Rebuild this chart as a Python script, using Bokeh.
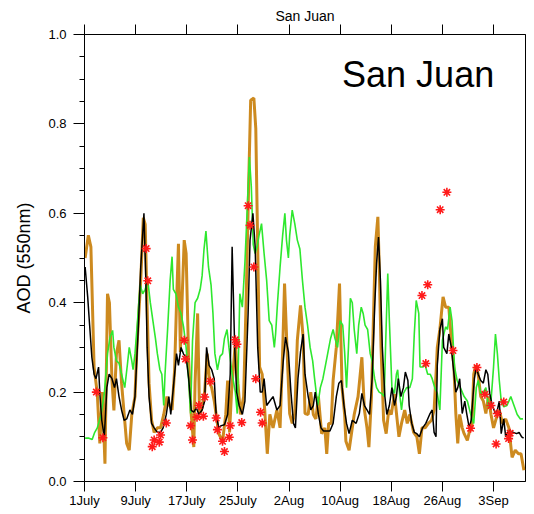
from bokeh.plotting import figure
from bokeh.models import LinearAxis, FixedTicker, Range1d, Label, PrintfTickFormatter, CustomLabelingPolicy
from bokeh.embed import file_html
from bokeh.resources import INLINE

# ---- data (days since 1 July) ----
tick_days = [0, 8, 16, 24, 32, 40, 48, 56, 64]
tick_labels = ["1July", "9July", "17July", "25July", "2Aug", "10Aug", "18Aug", "26Aug", "3Sep"]

orange_day = [0.1, 0.6, 1.0, 1.5, 2.0, 2.4, 2.8, 3.2, 3.6, 3.9, 4.3, 4.6, 5.0, 5.4, 5.8, 6.2, 6.6, 7.0, 7.4, 7.9,
              8.2, 8.8, 9.2, 9.5, 9.8, 10.1, 10.5, 10.9, 11.4, 11.9, 12.4, 12.9, 13.3, 13.7, 14.1, 14.4, 14.7, 15.0,
              15.3, 15.6, 15.9, 16.3, 16.7, 17.1, 17.3, 17.7, 18.0, 18.4, 18.8, 19.2, 19.6, 19.9, 20.3, 20.6, 21.0,
              21.6, 22.1, 22.4, 22.7, 23.0, 23.6, 24.0, 24.4, 24.9, 25.3, 25.7, 26.0, 26.5, 26.8, 27.1, 27.4, 27.8,
              28.2, 28.6, 29.0, 29.5, 30.1, 30.6, 31.0, 31.3, 31.8, 32.1, 32.5, 32.9, 33.3, 33.8, 34.2, 34.5, 35.0,
              35.4, 35.8, 36.2, 36.6, 37.1, 37.6, 37.9, 38.2, 38.6, 38.9, 39.4, 39.9, 40.3, 40.7, 40.9, 41.4, 41.8,
              42.2, 42.8, 43.4, 43.8, 44.2, 44.5, 44.9, 45.2, 45.5, 45.9, 46.1, 46.4, 46.8, 47.2, 47.6, 48.0, 48.5,
              48.9, 49.2, 49.6, 50.1, 50.5, 50.9, 51.5, 52.0, 52.4, 52.8, 53.3, 53.8, 54.3, 54.7, 55.0, 55.2, 55.6,
              56.1, 56.5, 57.0, 57.4, 57.8, 58.1, 58.4, 58.7, 59.1, 59.4, 59.9, 60.2, 60.6, 60.9, 61.2, 61.6, 62.0,
              62.4, 62.8, 63.2, 63.6, 64.0, 64.4, 64.9, 65.4, 65.9, 66.4, 66.9, 67.4, 67.9, 68.3, 68.75]
orange_aod = [0.50, 0.551, 0.525, 0.256, 0.197, 0.085, 0.20, 0.04, 0.42, 0.40, 0.226, 0.159, 0.286, 0.316, 0.22,
              0.152, 0.085, 0.07, 0.15, 0.19, 0.30, 0.45, 0.59, 0.575, 0.39, 0.22, 0.137, 0.11, 0.12, 0.12, 0.15,
              0.19, 0.17, 0.16, 0.25, 0.40, 0.532, 0.29, 0.42, 0.54, 0.51, 0.27, 0.15, 0.077, 0.22, 0.376, 0.15,
              0.165, 0.20, 0.286, 0.22, 0.21, 0.18, 0.15, 0.107, 0.09, 0.15, 0.226, 0.11, 0.20, 0.31, 0.22, 0.15,
              0.19, 0.41, 0.674, 0.853, 0.858, 0.79, 0.525, 0.256, 0.24, 0.159, 0.062, 0.15, 0.12, 0.16, 0.12,
              0.29, 0.443, 0.256, 0.152, 0.13, 0.152, 0.316, 0.394, 0.323, 0.152, 0.15, 0.20, 0.15, 0.14, 0.19,
              0.107, 0.12, 0.062, 0.13, 0.13, 0.226, 0.30, 0.443, 0.21, 0.15, 0.09, 0.07, 0.11, 0.15, 0.19, 0.278,
              0.16, 0.12, 0.077, 0.19, 0.36, 0.525, 0.592, 0.49, 0.30, 0.137, 0.107, 0.16, 0.15, 0.196, 0.14, 0.10,
              0.13, 0.16, 0.13, 0.15, 0.11, 0.10, 0.062, 0.12, 0.12, 0.13, 0.137, 0.16, 0.24, 0.30, 0.34, 0.413,
              0.39, 0.39, 0.316, 0.256, 0.152, 0.085, 0.15, 0.12, 0.107, 0.092, 0.11, 0.12, 0.24, 0.26, 0.24, 0.19,
              0.18, 0.152, 0.19, 0.15, 0.12, 0.14, 0.16, 0.13, 0.14, 0.12, 0.054, 0.07, 0.062, 0.062, 0.025]

black_day = [0.1, 0.5, 0.8, 1.15, 1.5, 1.8, 2.2, 2.4, 2.7, 3.1, 3.5, 3.85, 4.3, 4.7, 5.0, 5.4, 5.8, 6.2, 6.6, 7.1,
             7.5, 7.9, 8.4, 8.8, 9.3, 9.6, 9.8, 10.1, 10.5, 10.9, 11.4, 11.9, 12.3, 12.8, 13.2, 13.5, 13.9, 14.4,
             14.7, 15.1, 15.5, 15.9, 16.3, 16.7, 17.1, 17.5, 17.9, 18.4, 18.8, 19.1, 19.5, 19.9, 20.3, 20.6, 21.0,
             21.4, 21.9, 22.4, 22.8, 23.1, 23.5, 23.8, 24.2, 24.7, 25.1, 25.6, 25.9, 26.35, 26.7, 27.1, 27.5, 27.8,
             28.1, 28.5, 29.0, 29.5, 30.1, 30.6, 31.1, 31.45, 31.9, 32.3, 32.7, 33.0, 33.4, 33.8, 34.2, 34.5, 35.0,
             35.4, 35.8, 36.1, 36.6, 37.0, 37.4, 37.9, 38.4, 38.9, 39.4, 39.8, 40.2, 40.6, 41.0, 41.4, 41.9, 42.5,
             43.0, 43.4, 43.8, 44.2, 44.6, 45.0, 45.4, 45.7, 46.0, 46.3, 46.6, 47.0, 47.3, 47.7, 48.1, 48.5, 48.8,
             49.1, 49.5, 49.9, 50.2, 50.6, 50.8, 51.2, 51.6, 52.0, 52.4, 52.9, 53.4, 54.0, 54.4, 54.7, 55.0, 55.2,
             55.6, 56.0, 56.2, 56.7, 57.0, 57.4, 57.7, 58.1, 58.4, 58.7, 59.1, 59.5, 59.8, 60.2, 60.5, 61.0, 61.3,
             61.6, 62.0, 62.4, 62.8, 63.1, 63.4, 63.8, 64.3, 64.6, 64.9, 65.2, 65.6, 65.9, 66.2, 66.6, 67.1, 67.6,
             68.0, 68.4, 68.7]
black_aod = [0.48, 0.413, 0.35, 0.278, 0.24, 0.23, 0.256, 0.197, 0.137, 0.10, 0.21, 0.24, 0.23, 0.21, 0.23, 0.19,
             0.16, 0.137, 0.14, 0.16, 0.15, 0.19, 0.338, 0.48, 0.60, 0.45, 0.30, 0.19, 0.13, 0.12, 0.11, 0.11, 0.12,
             0.15, 0.19, 0.15, 0.21, 0.286, 0.26, 0.30, 0.285, 0.278, 0.23, 0.159, 0.155, 0.165, 0.15, 0.16, 0.18,
             0.30, 0.26, 0.25, 0.23, 0.15, 0.12, 0.125, 0.127, 0.15, 0.24, 0.525, 0.30, 0.20, 0.17, 0.15, 0.18,
             0.376, 0.54, 0.60, 0.525, 0.30, 0.20, 0.20, 0.23, 0.17, 0.18, 0.19, 0.16, 0.17, 0.27, 0.323, 0.29,
             0.20, 0.13, 0.12, 0.23, 0.29, 0.33, 0.24, 0.19, 0.16, 0.17, 0.20, 0.15, 0.12, 0.113, 0.113, 0.113,
             0.13, 0.19, 0.22, 0.226, 0.17, 0.13, 0.107, 0.137, 0.13, 0.152, 0.197, 0.17, 0.16, 0.15, 0.23, 0.39,
             0.488, 0.547, 0.45, 0.30, 0.19, 0.15, 0.17, 0.21, 0.17, 0.19, 0.23, 0.19, 0.21, 0.245, 0.226, 0.17,
             0.13, 0.11, 0.107, 0.10, 0.12, 0.13, 0.15, 0.16, 0.11, 0.10, 0.26, 0.34, 0.364, 0.30, 0.286, 0.33,
             0.30, 0.256, 0.20, 0.21, 0.23, 0.152, 0.18, 0.152, 0.12, 0.137, 0.23, 0.256, 0.24, 0.226, 0.22, 0.25,
             0.24, 0.197, 0.17, 0.152, 0.16, 0.18, 0.107, 0.14, 0.10, 0.11, 0.113, 0.11, 0.107, 0.11, 0.10, 0.097]

green_day = [0.1, 0.7, 1.2, 1.6, 2.0, 2.6, 3.1, 3.6, 4.0, 4.4, 4.6, 5.0, 5.4, 5.8, 6.3, 6.7, 7.0, 7.4, 7.6, 7.9,
             8.3, 8.7, 9.1, 9.5, 9.9, 10.3, 10.7, 11.1, 11.4, 11.8, 12.1, 12.4, 12.6, 13.0, 13.4, 13.7, 13.9, 14.3,
             14.7, 15.1, 15.5, 15.9, 16.3, 16.6, 16.9, 17.3, 17.7, 18.1, 18.4, 18.7, 19.0, 19.4, 19.8, 20.1, 20.4,
             20.8, 21.2, 21.6, 21.9, 22.3, 22.6, 23.1, 23.6, 23.9, 24.3, 24.7, 25.1, 25.4, 25.8, 26.1, 26.4, 26.7,
             27.0, 27.3, 27.7, 28.1, 28.5, 28.9, 29.3, 29.7, 29.9, 30.2, 30.6, 31.0, 31.35, 31.6, 31.9, 32.1, 32.5,
             32.9, 33.3, 33.7, 34.1, 34.5, 34.9, 35.3, 35.7, 36.0, 36.5, 36.9, 37.3, 37.7, 38.1, 38.5, 38.9, 39.2,
             39.6, 40.0, 40.4, 40.7, 41.0, 41.3, 41.6, 41.9, 42.2, 42.6, 42.9, 43.3, 43.6, 43.9, 44.3, 44.7, 45.0,
             45.4, 45.7, 46.1, 46.5, 46.9, 47.1, 47.45, 47.7, 48.1, 48.5, 48.8, 49.0, 49.3, 49.6, 49.9, 50.4, 50.9,
             51.3, 51.6, 51.9, 52.3, 52.5, 52.9, 53.3, 53.7, 54.1, 54.4, 54.8, 55.2, 55.6, 56.0, 56.5, 56.8, 57.2,
             57.5, 57.9, 58.3, 58.8, 59.4, 59.9, 60.4, 60.9, 61.3, 61.6, 62.0, 62.4, 62.8, 63.2, 63.6, 64.0, 64.3,
             64.6, 64.9, 65.2, 65.6, 66.1, 66.7, 67.2, 67.7, 68.2, 68.6]
green_aod = [0.097, 0.097, 0.094, 0.11, 0.12, 0.15, 0.197, 0.286, 0.323, 0.338, 0.30, 0.27, 0.265, 0.24, 0.21,
             0.26, 0.30, 0.27, 0.25, 0.286, 0.36, 0.44, 0.42, 0.43, 0.45, 0.40, 0.36, 0.32, 0.286, 0.25, 0.24, 0.17,
             0.24, 0.34, 0.45, 0.503, 0.43, 0.42, 0.39, 0.376, 0.346, 0.30, 0.226, 0.152, 0.315, 0.40, 0.41, 0.43,
             0.46, 0.52, 0.56, 0.48, 0.44, 0.376, 0.286, 0.25, 0.28, 0.286, 0.32, 0.34, 0.30, 0.24, 0.20, 0.152,
             0.42, 0.39, 0.49, 0.59, 0.726, 0.66, 0.53, 0.51, 0.525, 0.55, 0.577, 0.51, 0.45, 0.36, 0.35, 0.30,
             0.33, 0.40, 0.48, 0.55, 0.60, 0.54, 0.50, 0.55, 0.607, 0.577, 0.54, 0.52, 0.45, 0.39, 0.35, 0.30,
             0.27, 0.23, 0.17, 0.21, 0.23, 0.26, 0.29, 0.32, 0.34, 0.32, 0.30, 0.36, 0.35, 0.29, 0.21, 0.30, 0.41,
             0.40, 0.34, 0.286, 0.35, 0.39, 0.376, 0.35, 0.34, 0.286, 0.27, 0.23, 0.21, 0.20, 0.197, 0.19, 0.30,
             0.465, 0.36, 0.21, 0.197, 0.24, 0.25, 0.197, 0.16, 0.197, 0.21, 0.21, 0.23, 0.33, 0.405, 0.376, 0.256,
             0.256, 0.26, 0.24, 0.24, 0.23, 0.21, 0.197, 0.16, 0.316, 0.346, 0.34, 0.39, 0.36, 0.256, 0.226, 0.21,
             0.19, 0.18, 0.152, 0.13, 0.21, 0.226, 0.197, 0.20, 0.21, 0.167, 0.18, 0.256, 0.33, 0.286, 0.226, 0.18,
             0.167, 0.17, 0.19, 0.17, 0.15, 0.14, 0.14]

obs_day = [1.85, 2.88, 9.65, 9.9, 10.6, 10.9, 11.7, 11.9, 12.8, 15.6, 15.8, 16.6, 16.9, 17.6, 17.9, 18.6, 18.8,
           19.7, 20.6, 20.8, 21.6, 21.9, 22.65, 22.8, 23.6, 23.85, 24.6, 25.6, 25.9, 26.5, 26.8, 27.55, 27.8,
           52.8, 53.4, 53.7, 55.65, 56.7, 57.65, 60.4, 61.4, 62.65, 63.6, 64.4, 64.6, 65.6, 66.35, 66.6]
obs_aod = [0.20, 0.098, 0.521, 0.449, 0.078, 0.093, 0.088, 0.104, 0.131, 0.316, 0.274, 0.125, 0.093, 0.144, 0.17,
           0.146, 0.189, 0.224, 0.142, 0.116, 0.09, 0.067, 0.099, 0.125, 0.317, 0.307, 0.132, 0.617, 0.573, 0.48,
           0.23, 0.155, 0.131, 0.416, 0.264, 0.44, 0.608, 0.647, 0.293, 0.119, 0.255, 0.195, 0.17, 0.084, 0.152,
           0.178, 0.096, 0.108]

y_major = [0.0, 0.2, 0.4, 0.6, 0.8, 1.0]
y_minor = [0.05, 0.1, 0.15, 0.25, 0.3, 0.35, 0.45, 0.5, 0.55, 0.65, 0.7, 0.75, 0.85, 0.9, 0.95]

FONT = "Liberation Sans"

p = figure(width=534, height=514, x_range=Range1d(0, 69), y_range=Range1d(0, 1),
           output_backend="svg", toolbar_location=None,
           min_border_left=84, min_border_right=9, min_border_top=34, min_border_bottom=33)
p.xgrid.visible = False
p.ygrid.visible = False
p.outline_line_color = "black"
p.outline_line_width = 1
p.background_fill_color = "white"
p.border_fill_color = "white"

# bottom axis
xa = p.xaxis[0]
xa.ticker = FixedTicker(ticks=tick_days, minor_ticks=[])
xa.major_label_overrides = {d: l for d, l in zip(tick_days, tick_labels)}
xa.major_tick_out = 10
xa.major_tick_in = 0
xa.minor_tick_out = 0
xa.major_label_standoff = 1
xa.major_label_text_font = FONT
xa.major_label_text_font_size = "13px"
xa.major_label_text_color = "black"
xa.axis_line_color = "black"
xa.major_tick_line_color = "black"

# left axis
ya = p.yaxis[0]
ya.ticker = FixedTicker(ticks=y_major, minor_ticks=y_minor)
ya.formatter = PrintfTickFormatter(format="%.1f")
ya.major_tick_out = 11
ya.major_tick_in = 0
ya.minor_tick_out = 5
ya.minor_tick_in = 0
ya.major_label_standoff = 7
ya.major_label_text_font = FONT
ya.major_label_text_font_size = "13px"
ya.major_label_text_color = "black"
ya.axis_label = "AOD (550nm)"
ya.axis_label_text_font = FONT
ya.axis_label_text_font_size = "18px"
ya.axis_label_text_font_style = "normal"
ya.axis_label_text_color = "black"
ya.axis_label_standoff = 11
ya.axis_line_color = "black"

# top axis: ticks only, with the small title as its label
hide_all = CustomLabelingPolicy(code="""
try {
  for (const i of Array.from(indices)) { indices.unset(i) }
} catch (e) {
  try { for (const i of Array.from(indices)) { indices.set(i, false) } } catch (e2) {}
}
return indices
""")
ta = LinearAxis(ticker=FixedTicker(ticks=tick_days, minor_ticks=[]))
ta.major_tick_out = 10
ta.major_tick_in = 0
ta.minor_tick_out = 0
ta.major_label_policy = hide_all
ta.major_label_text_font_size = "1px"
ta.major_label_standoff = 0
ta.axis_label = "San Juan"
ta.axis_label_text_font = FONT
ta.axis_label_text_font_size = "14px"
ta.axis_label_text_font_style = "normal"
ta.axis_label_text_color = "black"
ta.axis_label_standoff = -3
ta.axis_line_color = "black"
p.add_layout(ta, "above")

# series
p.line(orange_day, orange_aod, line_color="#CD8A1F", line_width=3)
p.line(green_day, green_aod, line_color="#2EE82E", line_width=1.6)
p.line(black_day, black_aod, line_color="black", line_width=1.5)
p.scatter(obs_day, obs_aod, marker="asterisk", size=9, line_color="#FF1A1A", line_width=1.6)

p.add_layout(Label(x=52.2, y=0.91, text="San Juan", text_align="center", text_baseline="alphabetic",
                   text_font=FONT, text_font_size="36px", text_color="black"))

open("out.html", "w").write(file_html(p, INLINE))
